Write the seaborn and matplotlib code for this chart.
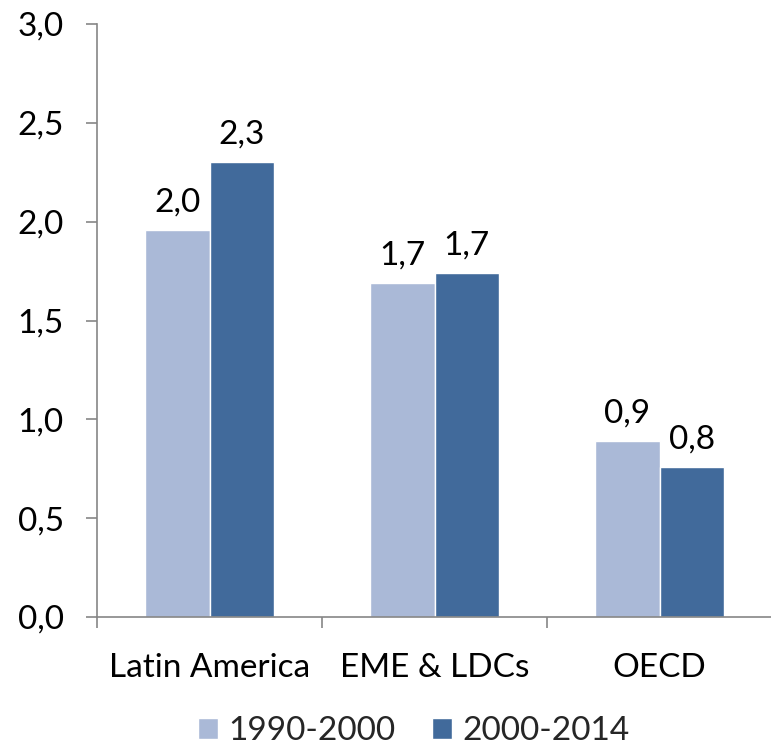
import matplotlib
matplotlib.use("Agg")
import matplotlib.pyplot as plt
import seaborn as sns
import pandas as pd
from matplotlib.ticker import FixedLocator, FuncFormatter
from matplotlib.patches import Patch

regions = ["Latin America", "EME & LDCs", "OECD"]
periods = ["1990-2000", "2000-2014"]
growth_1990_2000 = [1.96, 1.69, 0.89]
growth_2000_2014 = [2.30, 1.74, 0.76]
y_ticks = [0.0, 0.5, 1.0, 1.5, 2.0, 2.5, 3.0]

colors = ["#AAB9D7", "#416A9B"]
axis_grey = "#868686"
FS = 24

df = pd.DataFrame({
    "region": regions * 2,
    "period": [periods[0]] * 3 + [periods[1]] * 3,
    "value": growth_1990_2000 + growth_2000_2014,
})

sns.set_style("white")
plt.rcParams["font.family"] = ["Lato", "DejaVu Sans"]

fig = plt.figure(figsize=(7.71, 7.51), dpi=100)
ax = fig.add_axes([97 / 771, (751 - 617) / 751, (772 - 97) / 771, (617 - 24) / 751])

sns.barplot(data=df, x="region", y="value", hue="period", order=regions,
            hue_order=periods, palette=colors, width=0.57, gap=0,
            saturation=1, ax=ax, legend=False, errorbar=None)

for container in ax.containers:
    ax.bar_label(container, labels=[f"{v:.1f}".replace(".", ",") for v in container.datavalues],
                 padding=9, fontsize=FS, color="black")

ax.set_ylim(0, 3.0)
ax.set_xlim(-0.5, 2.5)
ax.set_yticks(y_ticks)
ax.yaxis.set_major_formatter(FuncFormatter(lambda v, _: f"{v:.1f}".replace(".", ",")))
ax.tick_params(axis="y", length=8, width=1.2, color=axis_grey, labelsize=FS,
               pad=16, left=True, direction="out", labelcolor="black")

# category boundaries carry the tick marks; names sit between them
ax.xaxis.set_major_locator(FixedLocator([-0.5, 0.5, 1.5, 2.5]))
ax.xaxis.set_major_formatter(FuncFormatter(lambda v, _: ""))
ax.xaxis.set_minor_locator(FixedLocator([0, 1, 2]))
ax.set_xticklabels(regions, minor=True)
ax.tick_params(axis="x", which="major", length=8, width=1.2, color=axis_grey,
               bottom=True, direction="out")
ax.tick_params(axis="x", which="minor", length=0, labelsize=FS, pad=26,
               labelcolor="black")
ax.set_xlabel("")
ax.set_ylabel("")

for side in ["top", "right"]:
    ax.spines[side].set_visible(False)
for side in ["left", "bottom"]:
    ax.spines[side].set_color(axis_grey)
    ax.spines[side].set_linewidth(1.2)

handles = [Patch(facecolor=c, label=p) for c, p in zip(colors, periods)]
fig.legend(handles=handles, loc="center", bbox_to_anchor=(414 / 771, 1 - 731 / 751),
           ncol=2, frameon=False, fontsize=FS, handlelength=0.6, handleheight=0.6,
           handletextpad=0.3, columnspacing=1.1, borderpad=0, borderaxespad=0)

fig.savefig("out.png", dpi=100)
